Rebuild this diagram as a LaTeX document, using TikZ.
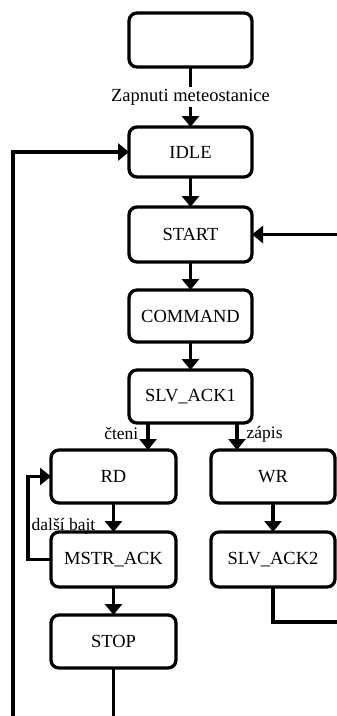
\documentclass[tikz,border=0pt]{standalone}
\usepackage{fontspec}
\setmainfont{Liberation Serif}
\usepackage{tikz}
\usetikzlibrary{
  arrows.meta,
  calc,
  positioning
}
\definecolor{stateink}{RGB}{0,0,0}
\tikzset{
  state/.style={draw=stateink,line width=3.3pt,rounded corners=8pt,fill=white,
    minimum width=123pt,minimum height=53pt,inner sep=0pt,outer sep=0pt,
    align=center,font=\fontsize{18.5}{20}\selectfont},
  flow/.style={-{Triangle[width=17pt,length=11pt]},line width=3.3pt,draw=stateink},
  wire/.style={line width=3.3pt,draw=stateink},
  lab/.style={font=\fontsize{17.5}{19}\selectfont,inner sep=2pt},
  toplab/.style={font=\fontsize{18.5}{20}\selectfont,fill=white,inner sep=2pt}
}

\begin{document}
\begin{tikzpicture}[x=1pt,y=-1pt]
  \useasboundingbox (0,0) rectangle (337,716);
  % main column
  \node[state,minimum height=54pt] (pwr) at (190.5,40) {};
  \node[state,minimum height=50pt] (idle) at (190.5,152) {IDLE};
  \node[state,minimum height=55pt] (start) at (190.5,234.5) {START};
  \node[state,minimum height=52pt] (cmd) at (190.5,316) {COMMAND};
  \node[state] (ack1) at (190.5,396.5) {SLV\_ACK1};
  % read / write branches
  \node[state,minimum width=125pt] (rd) at (113.5,476.5) {RD};
  \node[state,minimum width=124pt] (wr) at (273,476.5) {WR};
  \node[state,minimum width=125pt,minimum height=55pt] (mack) at (113.5,559.5) {MSTR\_ACK};
  \node[state,minimum width=124pt,minimum height=55pt] (ack2) at (273,559.5) {SLV\_ACK2};
  \node[state,minimum width=125pt] (stop) at (113.5,641.5) {STOP};
  % loose ends at the page border
  \coordinate (botstop) at (113.5,716);
  \coordinate (botleft) at (13,716);
  \coordinate (rightin) at (337,234.5);
  \coordinate (rightout) at (337,622);

  \draw[flow] (pwr)--node[toplab]{Zapnuti meteostanice}(idle);
  \draw[flow] (idle)--(start);
  \draw[flow] (start)--(cmd);
  \draw[flow] (cmd)--(ack1);
  \draw[flow] ([xshift=-42.5pt]ack1.south)--node[lab,left=6pt,pos=0.4]{čteni}
    ([xshift=-42.5pt]ack1.south |- rd.north);
  \draw[flow] ([xshift=46.5pt]ack1.south)--node[lab,right=6pt,pos=0.4]{zápis}
    ([xshift=46.5pt]ack1.south |- wr.north);
  \draw[flow] (rd)--(mack);
  \draw[flow] (wr)--(ack2);
  \draw[flow] (mack)--(stop);
  \draw[flow] (mack.west)--++(-23,0)|-node[lab,right,pos=0.2]{další bajt}(rd.west);
  \draw[wire] (stop.south)--(botstop);
  \draw[flow] (botleft)|-(idle.west);
  \draw[flow] (rightin)--(start.east);
  \draw[wire] (ack2.south)|-(rightout);
\end{tikzpicture}
\end{document}
